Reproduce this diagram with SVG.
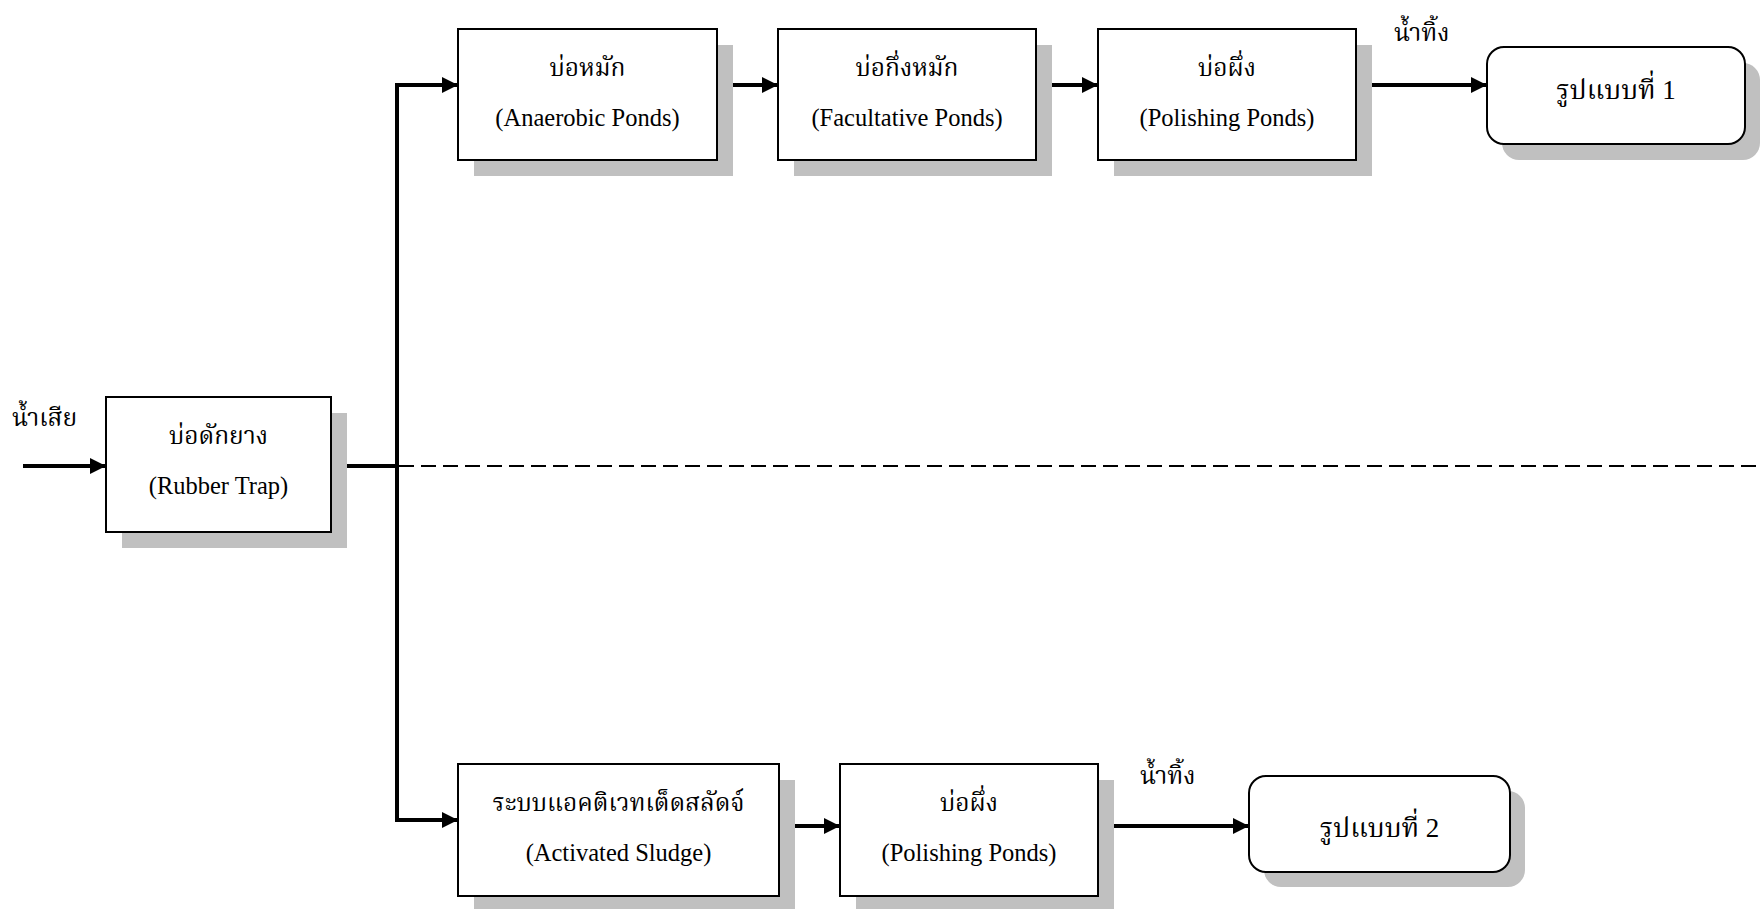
<svg xmlns="http://www.w3.org/2000/svg" width="1760" height="909" viewBox="0 0 1760 909">
<style>
.bg{fill:#ffffff}
.box{fill:#ffffff;stroke:#000000;stroke-width:2}
.sh{fill:#c0c0c0;stroke:none}
.t{font-family:"Liberation Serif","Noto Serif Thai","Noto Sans Thai","DejaVu Serif",serif;font-size:24.5px;fill:#000000;text-anchor:middle}
.tb{font-size:27px}
.tl{font-family:"Liberation Serif","Noto Serif Thai","Noto Sans Thai","DejaVu Serif",serif;font-size:24.5px;fill:#000000}
.ln{fill:none;stroke:#000000;stroke-width:4}
.dash{fill:none;stroke:#000000;stroke-width:2;stroke-dasharray:15 7}
</style>
<defs>
<marker id="arr" markerUnits="userSpaceOnUse" markerWidth="16" markerHeight="16" refX="16" refY="8" orient="auto">
<path d="M0,0 L16,8 L0,16 z" fill="#000000"/>
</marker>
</defs>
<rect class="bg" x="0" y="0" width="1760" height="909"/>

<g id="connectors">
<path class="dash" d="M399,466 H1760"/>
<path class="ln" d="M23,466 H106" marker-end="url(#arr)"/>
<path class="ln" d="M331,466 H397"/>
<path class="ln" d="M397,83 V822"/>
<path class="ln" d="M395,85 H458" marker-end="url(#arr)"/>
<path class="ln" d="M395,820 H458" marker-end="url(#arr)"/>
<path class="ln" d="M717,85 H778" marker-end="url(#arr)"/>
<path class="ln" d="M1036,85 H1098" marker-end="url(#arr)"/>
<path class="ln" d="M1356,85 H1487" marker-end="url(#arr)"/>
<path class="ln" d="M778,826 H840" marker-end="url(#arr)"/>
<path class="ln" d="M1098,826 H1249" marker-end="url(#arr)"/>
</g>

<g id="label-wastewater-in">
<text class="tl" x="12" y="426">น้ำเสีย</text>
</g>
<g id="label-effluent-1">
<text class="tl" x="1394" y="41">น้ำทิ้ง</text>
</g>
<g id="label-effluent-2">
<text class="tl" x="1140" y="784">น้ำทิ้ง</text>
</g>

<g id="rubber-trap">
<rect class="sh" x="122" y="413" width="225" height="135"/>
<rect class="box" x="106" y="397" width="225" height="135"/>
<text class="t" x="218.5" y="444">บ่อดักยาง</text>
<text class="t" x="218.5" y="494">(Rubber Trap)</text>
</g>

<g id="anaerobic-ponds">
<rect class="sh" x="474" y="45" width="259" height="131"/>
<rect class="box" x="458" y="29" width="259" height="131"/>
<text class="t" x="587.5" y="76">บ่อหมัก</text>
<text class="t" x="587.5" y="126">(Anaerobic Ponds)</text>
</g>

<g id="facultative-ponds">
<rect class="sh" x="794" y="45" width="258" height="131"/>
<rect class="box" x="778" y="29" width="258" height="131"/>
<text class="t" x="907" y="76">บ่อกึ่งหมัก</text>
<text class="t" x="907" y="126">(Facultative Ponds)</text>
</g>

<g id="polishing-ponds-1">
<rect class="sh" x="1114" y="45" width="258" height="131"/>
<rect class="box" x="1098" y="29" width="258" height="131"/>
<text class="t" x="1227" y="76">บ่อผึ่ง</text>
<text class="t" x="1227" y="126">(Polishing Ponds)</text>
</g>

<g id="pattern-1">
<rect class="sh" x="1502" y="63" width="258" height="97" rx="17" ry="17"/>
<rect class="box" x="1487" y="47" width="258" height="97" rx="17" ry="17"/>
<text class="t tb" x="1616" y="99">รูปแบบที่ 1</text>
</g>

<g id="activated-sludge">
<rect class="sh" x="474" y="780" width="321" height="132"/>
<rect class="box" x="458" y="764" width="321" height="132"/>
<text class="t" x="618.5" y="811">ระบบแอคติเวทเต็ดสลัดจ์</text>
<text class="t" x="618.5" y="861">(Activated Sludge)</text>
</g>

<g id="polishing-ponds-2">
<rect class="sh" x="856" y="780" width="258" height="132"/>
<rect class="box" x="840" y="764" width="258" height="132"/>
<text class="t" x="969" y="811">บ่อผึ่ง</text>
<text class="t" x="969" y="861">(Polishing Ponds)</text>
</g>

<g id="pattern-2">
<rect class="sh" x="1264" y="791" width="261" height="96" rx="17" ry="17"/>
<rect class="box" x="1249" y="776" width="261" height="96" rx="17" ry="17"/>
<text class="t tb" x="1379.5" y="837">รูปแบบที่ 2</text>
</g>
</svg>
